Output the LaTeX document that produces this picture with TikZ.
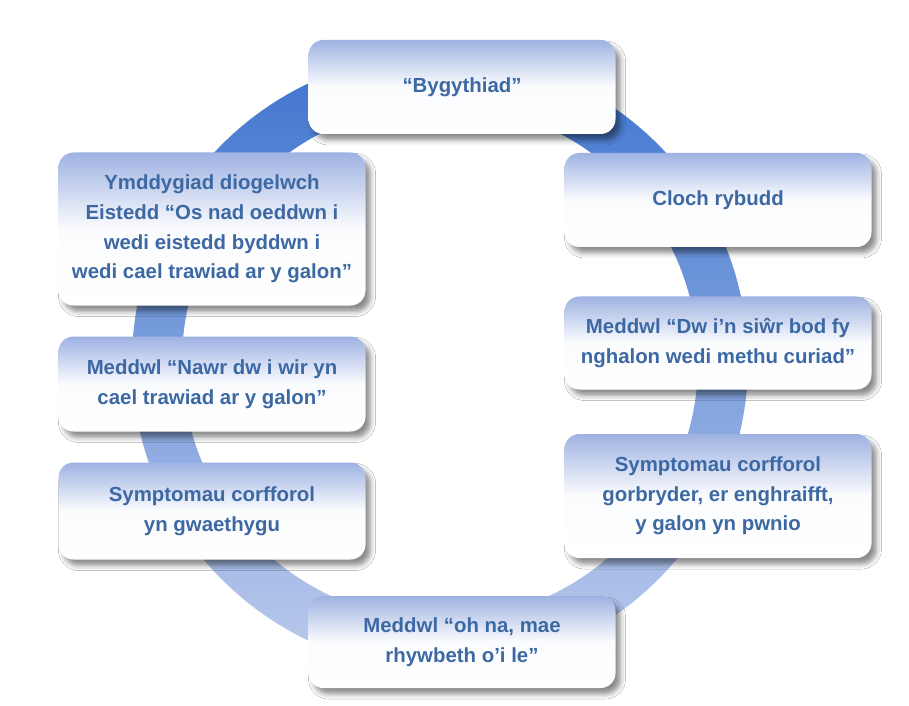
\documentclass[tikz,border=0pt]{standalone}
\usepackage{fontspec}
\setmainfont{Liberation Sans}
\usetikzlibrary{shadows.blur}
\definecolor{ringtop}{RGB}{62,116,205}
\definecolor{ringbot}{RGB}{188,203,236}
\definecolor{boxtop}{RGB}{158,178,226}
\definecolor{txtblue}{RGB}{60,104,163}
\tikzset{
  stage/.style={rounded corners=15pt, inner sep=0pt, align=center,
    minimum width=307pt, top color=boxtop, bottom color=white, middle color=white!96!boxtop,
    blur shadow={shadow xshift=5pt, shadow yshift=-6pt, shadow opacity=45, shadow blur radius=5pt},
    text=txtblue, font=\bfseries\fontsize{20.4}{29.6}\selectfont}
}
\begin{document}
\begin{tikzpicture}[x=1pt,y=1pt]
    \fill[white] (0,0) rectangle (909,705);
    \useasboundingbox (0,0) rectangle (909,705);
	\path[even odd rule, top color=ringtop, bottom color=ringbot] (440,343) circle[radius=308pt] (440,343) circle[radius=258pt];

	\node[stage, minimum height=94pt] (Threat) at (462,618) {“Bygythiad”};
	\node[stage, minimum height=94pt] (Alarm) at (718,505) {Cloch rybudd};
	\node[stage, minimum height=93pt] (Beat) at (718,362) {Meddwl “Dw i’n siŵr bod fy\\nghalon wedi methu curiad”};
	\node[stage, minimum height=124pt] (Body) at (718,209) {Symptomau corfforol\\gorbryder, er enghraifft,\\y galon yn pwnio};
	\node[stage, minimum height=92pt] (Wrong) at (462,63) {Meddwl “oh na, mae\\rhywbeth o’i le”};
	\node[stage, minimum height=97pt] (Worse) at (212,194) {Symptomau corfforol\\yn gwaethygu};
	\node[stage, minimum height=95pt] (Attack) at (212,321) {Meddwl “Nawr dw i wir yn\\cael trawiad ar y galon”};
	\node[stage, minimum height=153pt] (Safety) at (212,476) {Ymddygiad diogelwch\\Eistedd “Os nad oeddwn i\\wedi eistedd byddwn i\\wedi cael trawiad ar y galon”};

  \end{tikzpicture}
\end{document}
